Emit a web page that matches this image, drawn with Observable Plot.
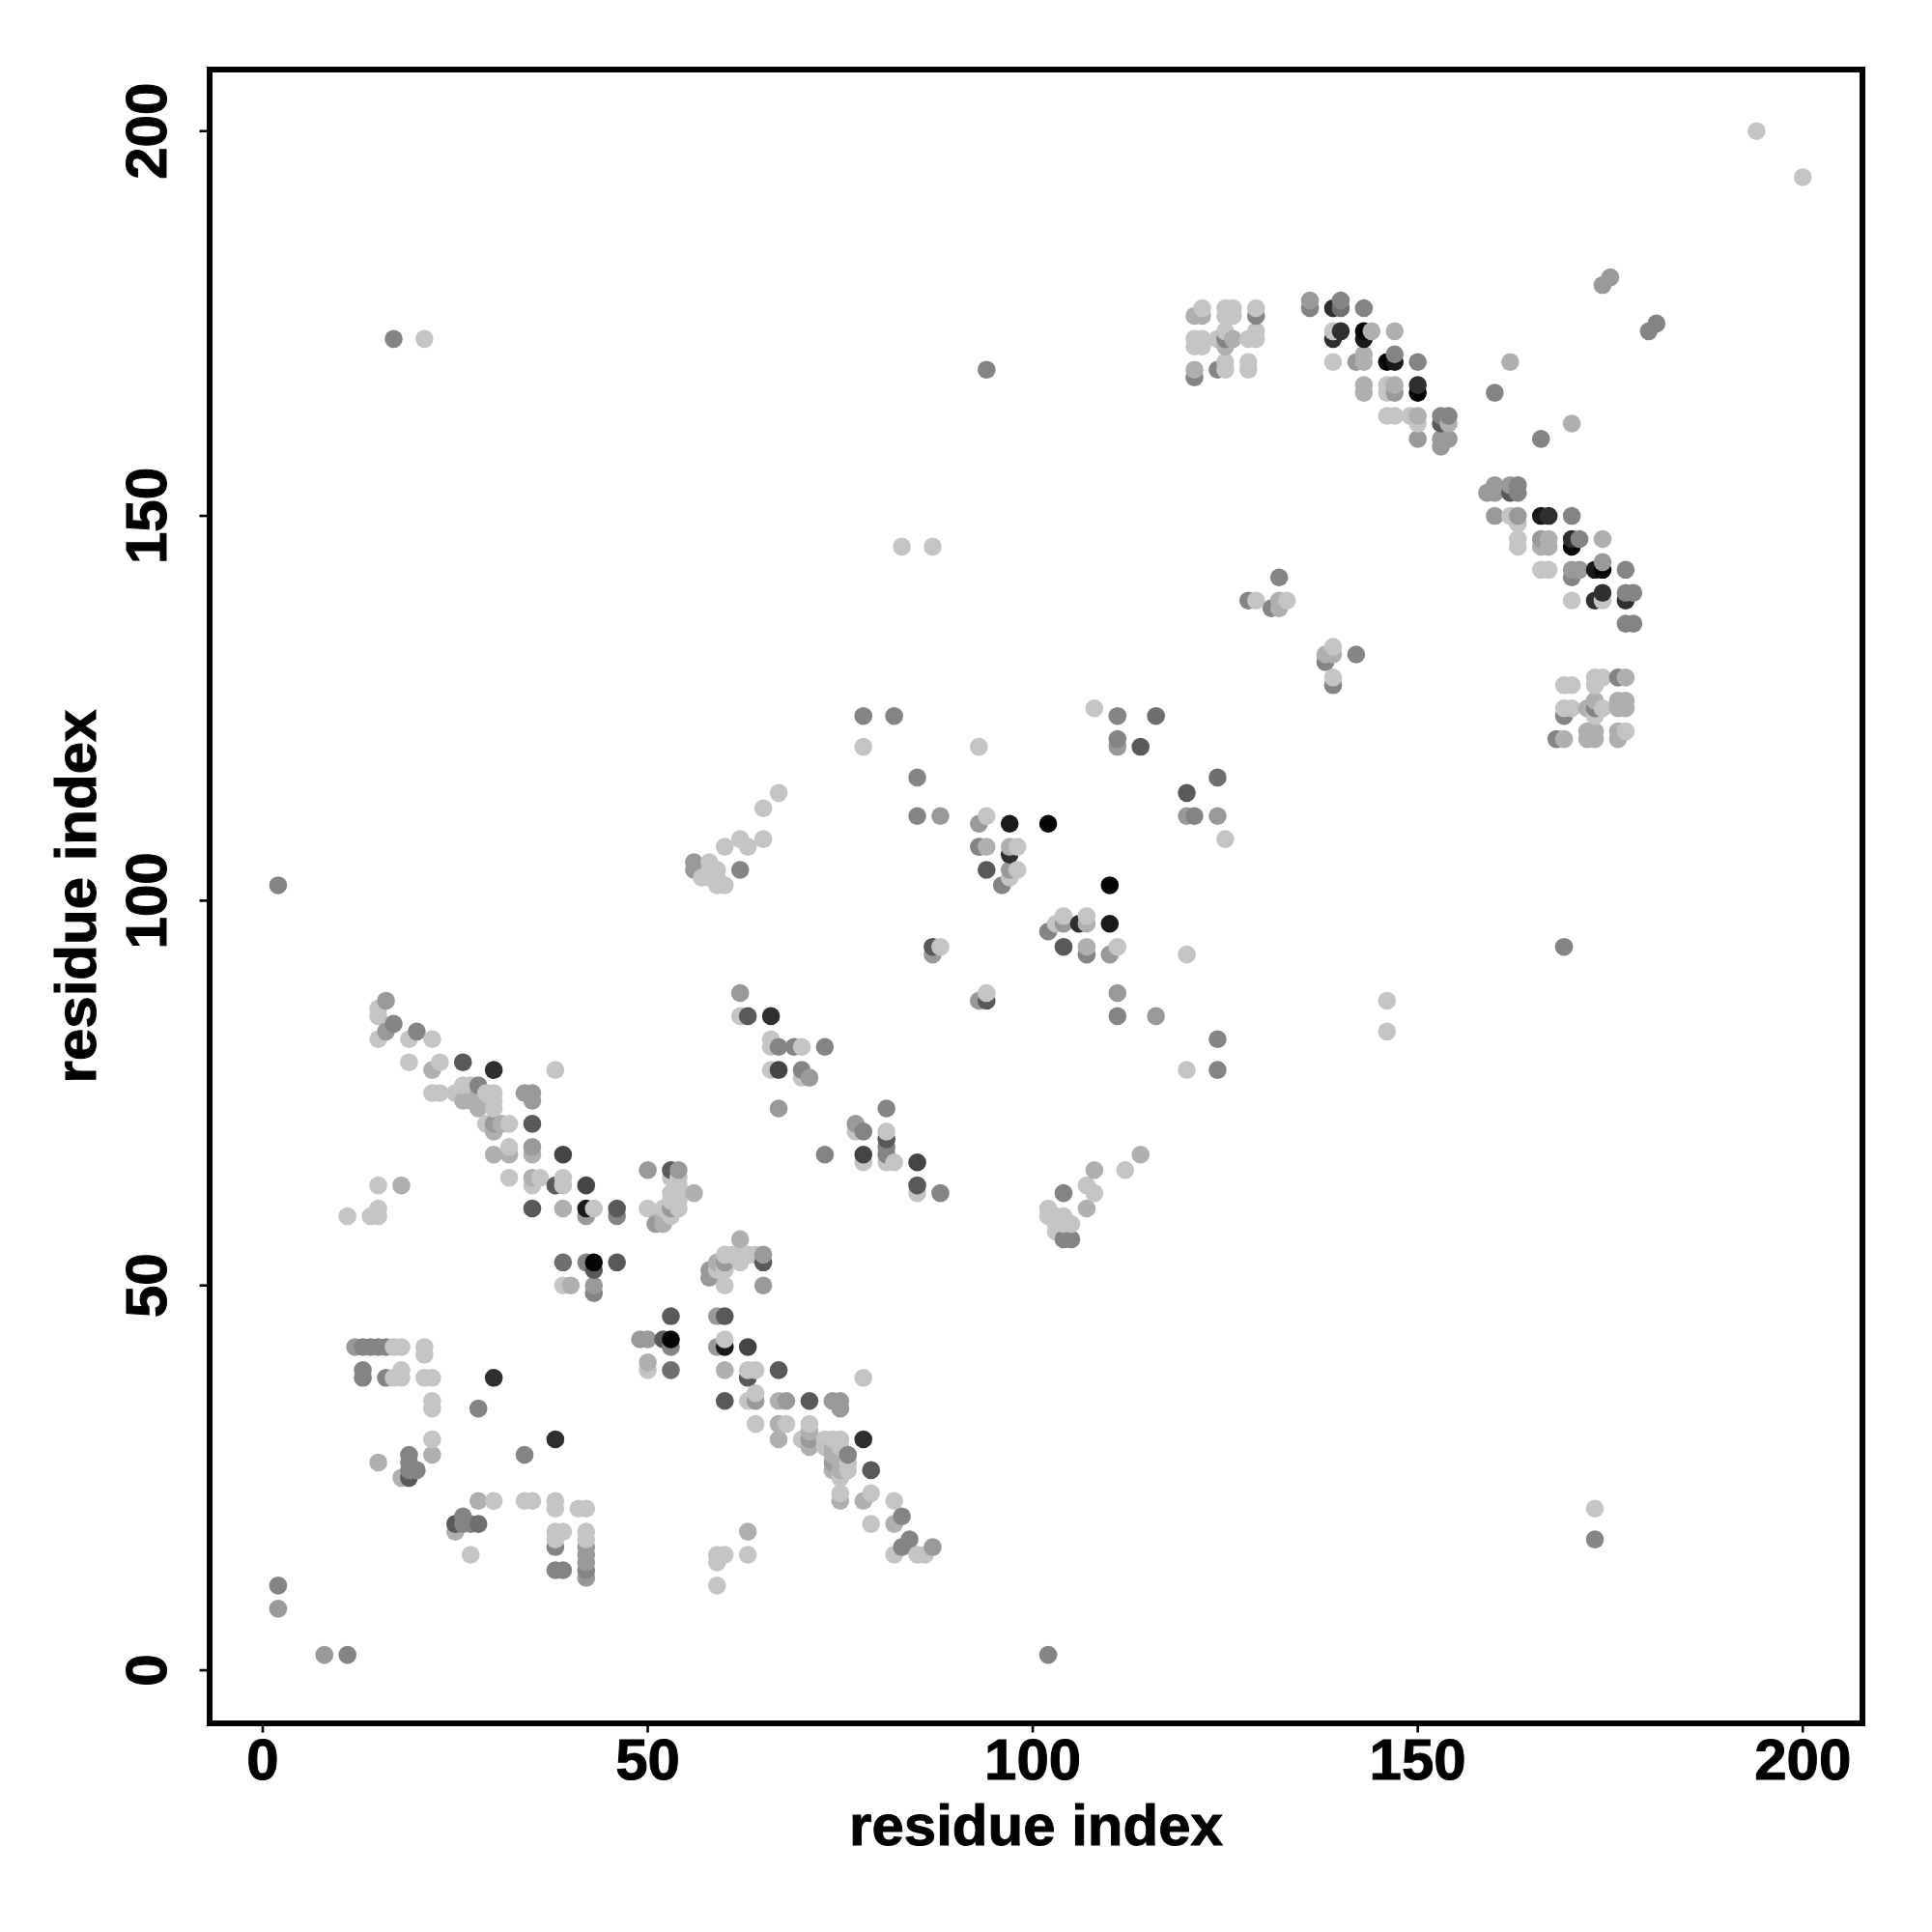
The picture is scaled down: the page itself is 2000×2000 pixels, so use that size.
<!DOCTYPE html>
<html>
<head>
<meta charset="utf-8">
<script src="https://cdn.jsdelivr.net/npm/d3@7"></script>
<script src="https://cdn.jsdelivr.net/npm/@observablehq/plot@0.6"></script>
<style>
html,body{margin:0;padding:0;background:#fff}
svg text{stroke:#000;stroke-width:1px}
</style>
</head>
<body>
<div id="chart"></div>
<script>
const tickValues = [0, 50, 100, 150, 200];
const axisLabel = "residue index";

const lowLeftX = [2,2,8,11,12,13,14,15,16,17,18,21,21, 13,13,16,17,18,18,21,22,22,22,30,28,22,22, 19,19,19,20,19,18,15,38,34,28,30,34,35,38,38,41,42, 25,26,26,27,28,25,27,38,39,38,38,38,39,42,42,42,42,42,42,42];
const lowLeftY = [11,8,2,2,42,42,42,42,42,42,42,42,41, 39,38,38,38,39,38,38,38,35,34,38,34,30,28, 28,27,26,26,25,25,27,30,28,22,22,22,22,22,21,21,21, 19,20,19,19,19,18,15,18,18,17,16,13,13,18,17,16,15,14,13,12];
const lowLeftS = [3,2,2,3,2,3,3,3,3,0,0,0,0, 3,3,3,0,0,0,0,0,0,0,7,3,0,1, 3,3,3,3,5,1,1,7,3,1,0,0,0,0,0,0,0, 5,3,3,3,4,1,0,0,0,0,3,3,3,0,0,2,2,2,3,2];

const lowMidX = [59,60,59,59,63,63,39,42,43,43,46,39,40,43,43, 53,59,60,49,50,52,53,53,50,50,53,59,60,60,63,60,63,64,63,67,60, 63,64,64,67,68,71,74,75,75,64,67,68,71,71,71,70,67,71,78,78, 73,74,75,73,74,75,74,75,74,75,74,75,76,76,76,75,75,75,79,78,79,82,83,82,79,84,83,82,85,86,87];
const lowMidY = [15,15,14,11,18,15,53,53,53,52,53,50,50,50,49, 46,46,46,43,43,43,43,42,40,39,39,42,43,42,42,39,39,39,38,39,35, 35,35,36,35,35,35,35,35,34,32,32,32,32,31,30,30,30,29,38,30, 30,30,30,29,29,29,28,28,27,27,26,26,28,27,26,25,23,22,26,22,23,22,20,19,19,17,16,15,15,15,16];
const lowMidS = [0,0,0,0,1,0,4,3,9,5,5,0,1,2,3, 5,2,5,2,2,5,9,3,1,0,4,2,0,8,6,1,0,0,5,5,5, 0,2,0,1,2,5,2,2,2,0,1,0,0,1,2,0,1,1,0,7, 0,0,0,0,1,0,1,1,2,1,1,1,3,0,0,0,0,1,5,1,0,0,3,1,0,3,3,0,0,0,2];

const diagX = [62,60,61,62,63,64,65,65,62,60,60,58,58,59,59,60,65, 16,15,15,17,16,15,19,20,22,19,23,22,26,30,38, 22,23,25,26,27,28,26,27,28,29,30,30,30,28,34,35,35,29,30,31,32,30,35, 30,32,32,35,35,39,32,35,35,36,38,39,39,42];
const diagY = [56,54,54,54,54,54,54,53,53,53,52,52,51,52,53,50,50, 87,86,85,84,83,82,82,83,82,79,79,78,79,78,78, 75,75,75,76,76,76,74,74,75,75,75,74,73,73,75,75,74,71,71,71,71,70,71, 67,68,67,68,67,67,64,64,63,64,63,64,63,63];
const diagS = [1,0,0,0,0,0,2,5,0,2,0,2,2,0,1,0,2, 2,0,0,3,2,0,0,3,0,0,0,1,5,7,0, 0,0,0,0,0,3,1,1,1,0,0,0,0,1,2,2,2,0,2,1,0,1,5, 1,0,1,2,1,6,0,1,0,0,5,0,0,6];

const diag2X = [15,18,15,14,15,11,35,39,42,43,42,46,46, 50,53,54,53,54,54,53,54,56,53,54,50,52,53,54,52,53,51,52, 62,62,63,66,66,66,67,69,70,73,66,67,70,70,71,67, 77,78,77,81,81,81,81,73,78,78,81,81,82,85,85,85,88];
const diag2Y = [63,63,60,59,59,59,60,60,60,60,59,60,59, 65,65,65,64,64,63,62,62,62,61,61,60,60,60,60,59,59,58,58, 88,85,85,85,82,81,81,81,81,81,78,78,78,77,77,73, 71,70,70,73,70,69,68,67,67,66,67,66,66,66,63,62,62];
const diag2S = [0,1,0,0,0,0,5,1,8,0,2,5,3, 2,5,2,0,0,0,0,0,1,0,0,0,0,2,0,1,0,2,1, 2,0,5,7,0,0,3,3,0,3,0,6,3,0,2,2, 2,3,0,3,0,5,3,3,6,0,3,0,0,6,5,0,3];

const midX = [67,65,65,62,63,60,62,56,56,58,58,57,59,59,59,60,58, 85,85,88,93,94,97,102,93,94,97,98,97,94,97,98,97,96,110, 120,124,120,121,124,125,102,103,104,104,106,107,107,110,104,107,107,110,111,120, 87,88,87,93,94,94,111,111,116,124,124,120];
const midY = [114,112,108,108,107,107,104,105,104,105,104,103,104,103,102,102,103, 116,111,111,110,111,110,110,107,107,107,107,106,104,104,104,103,102,102, 114,116,111,111,111,108,96,97,97,98,97,98,97,97,94,94,93,93,94,93, 94,94,93,87,88,87,88,85,85,82,78,78];
const midS = [0,0,0,0,0,0,3,2,2,0,0,0,0,0,0,0,0, 3,3,2,2,0,8,9,3,1,1,0,7,5,2,0,0,3,9, 5,4,2,3,2,0,3,0,2,0,7,0,1,8,5,1,3,2,0,0, 5,0,2,2,0,5,2,3,2,3,3,0];

const strayX = [78,82,78,93,108,111,116,111,111,114,83,87,94,17,21,2,102,169,146,146,173,173,194,200, 114,112,108,107,108,104,107,102,102,103,104,104,105,103,104,105,103];
const strayY = [124,124,120,120,125,124,124,121,120,120,146,146,169,173,173,102,2,94,87,83,21,17,200,194, 67,65,65,63,62,62,60,60,59,58,59,58,58,57,56,56,59];
const strayS = [3,3,0,0,0,3,4,3,2,5,0,0,3,3,0,3,3,3,0,0,0,3,0,0, 1,0,1,0,0,3,1,0,0,0,0,0,0,0,3,3,0];

const upperX = [122,121,122,125,126,125,126,129,129,121,122,121,122,124,125,125,125,126,128,129,129, 121,121,124,125,125,128,128,136,136,139,140,140,143,139,139,140,143,143,144,147, 139,142,143,143,146,147,147,150,143,143,146,147,146,147,150,150, 146,147,149,150,150,150,153,154,153,154,153,154,153, 128,129,131,132,132,132,133,139,138,139,138,142,139,139, 175,174,181,180,162,160,170,166];
const upperY = [177,176,176,177,177,176,176,177,176,173,173,172,172,173,174,172,173,173,173,173,174, 169,168,169,170,169,170,169,178,177,177,178,177,177,174,173,174,174,173,174,174, 170,170,170,171,170,170,171,170,167,166,167,167,166,166,167,166, 163,163,163,163,162,160,163,163,162,162,160,160,159, 139,139,138,142,139,138,139,133,132,132,131,132,129,128, 181,180,175,174,170,166,162,160];
const upperS = [0,1,1,0,0,0,0,0,3,0,0,0,0,0,0,1,3,1,0,0,0, 1,3,3,0,0,0,0,2,3,7,3,4,3,0,7,7,9,8,1,1, 0,2,1,1,9,8,3,3,1,1,0,1,0,2,7,9, 0,0,0,1,0,2,3,3,5,1,2,2,2, 3,0,3,3,1,1,0,0,1,1,3,3,0,3, 2,2,3,3,1,3,1,3];

const rightX = [159,160,160,162,163,162,163,160,162,163,163,166,167,170, 163,163,166,167,166,167,170,171,170,174,166,167,170,171,170,173,174,174,177, 170,173,174,174,177,178,177,177,178, 173,174,173,176,177,169,170,169,170,169,172,173,173,174,173,176,177,176,177, 168,169,172,173,172,173,176,177,176];
const rightY = [153,154,153,154,154,153,153,150,150,150,149,150,150,150, 147,146,147,147,146,146,147,147,146,147,143,143,143,143,142,143,143,144,143, 139,139,140,139,140,140,139,136,136, 129,129,128,129,129,128,128,125,125,124,125,126,125,125,124,126,126,125,125, 121,121,122,122,121,121,122,122,121];
const rightS = [2,2,2,2,3,5,3,2,0,2,0,8,7,3, 0,0,2,1,1,1,7,3,9,1,0,0,2,2,3,8,9,2,3, 0,7,7,0,3,3,7,3,3, 0,0,0,3,1,0,0,0,0,3,1,1,3,0,0,1,1,1,1, 3,1,1,1,1,1,1,0,1];

const groups = [
  [lowLeftX, lowLeftY, lowLeftS],
  [lowMidX, lowMidY, lowMidS],
  [diagX, diagY, diagS],
  [diag2X, diag2Y, diag2S],
  [midX, midY, midS],
  [strayX, strayY, strayS],
  [upperX, upperY, upperS],
  [rightX, rightY, rightS]
];

const contacts = d3.sort(
  groups.flatMap(([xs, ys, ss]) => xs.map((x, i) => ({x, y: ys[i], s: ss[i]}))),
  d => d.x, d => d.y
);

const font = "'Liberation Sans', Arial, sans-serif";

const chart = Plot.plot({
  width: 2000,
  height: 2000,
  marginLeft: 216.5,
  marginRight: 72.5,
  marginTop: 71.5,
  marginBottom: 216.5,
  style: {background: "#fff", fontFamily: font},
  x: {domain: [-6.9, 207.75]},
  y: {domain: [-6.9, 208.0]},
  color: {type: "linear", domain: [0, 9], range: ["#c4c4c4", "#040404"]},
  marks: [
    Plot.dot(contacts, {x: "x", y: "y", fill: "s", r: 9.3, stroke: "none"}),
    Plot.frame({stroke: "#000", strokeWidth: 6}),
    Plot.axisX({
      ticks: tickValues, tickFormat: d => String(d), tickSize: 10, tickPadding: 5,
      fontSize: 60, fontWeight: "bold", fontFamily: font, strokeWidth: 2.6,
      label: axisLabel, labelAnchor: "center", labelArrow: "none", labelOffset: 126, color: "#000"
    }),
    Plot.axisY({
      ticks: tickValues, tickFormat: d => String(d), tickSize: 10, tickPadding: 35,
      tickRotate: -90, textAnchor: "middle", lineAnchor: "bottom",
      fontSize: 60, fontWeight: "bold", fontFamily: font, strokeWidth: 2.6,
      label: axisLabel, labelAnchor: "center", labelArrow: "none", labelOffset: 161, color: "#000"
    })
  ]
});
document.getElementById("chart").appendChild(chart);
</script>
</body>
</html>
